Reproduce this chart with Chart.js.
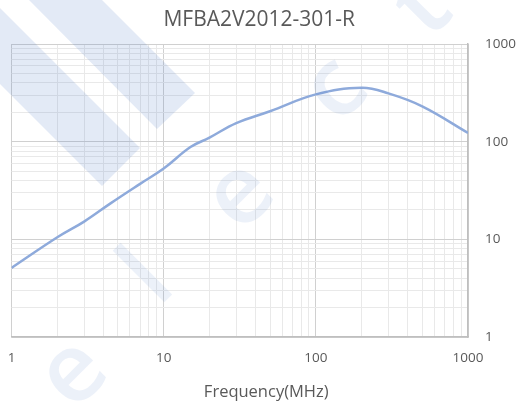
<!DOCTYPE html>
<html>
<head>
<meta charset="utf-8">
<script src="https://cdn.jsdelivr.net/npm/chart.js@4/dist/chart.umd.min.js"></script>
<style>
  html, body { margin: 0; padding: 0; background: #fff; }
  #wrap { width: 521px; height: 408px; }
</style>
</head>
<body>
<div id="wrap"><canvas id="chart" width="521" height="408"></canvas></div>
<script>
// (impedance vs frequency)
const freq = [1, 2, 3, 4.5, 7, 10, 15, 20, 30, 50, 100, 200, 300, 500, 1000];
const impedance = [5.1, 10.5, 15.2, 23.5, 37, 53, 88, 110, 155, 205, 305, 356, 312, 230, 123];

const decadeLabels = [1, 10, 100, 1000];
const gridSteps = [1, 2, 3, 4, 5, 6, 7, 8, 9];
const chartTitle = "MFBA2V2012-301-R";
const xTitle = "Frequency(MHz)";

function buildLogTicks(scale) {
    let ticks = [];
    for (let d = 0; d < decadeLabels.length - 1; d++) {
        gridSteps.forEach(s => ticks.push({ value: decadeLabels[d] * s }));
    }
    ticks.push({ value: decadeLabels[decadeLabels.length - 1] });
    scale.ticks = ticks;
}

function gridColor(ctx) {
    if (!ctx.tick) return '#e8e8e8';
    return decadeLabels.includes(ctx.tick.value) ? '#d0d0d0' : '#e9e9e9';
}

function labelOnlyDecades(value) {
    return decadeLabels.includes(value) ? String(value) : '';
}

// light blue watermark drawn over the chart, title nudged a little left
const watermark = {
    id: 'watermark',
    afterLayout(chart) {
        if (chart.titleBlock) {
            chart.titleBlock.left -= 7;
            chart.titleBlock.right -= 7;
        }
    },
    afterDraw(chart) {
        const c = chart.ctx;
        c.save();
        c.fillStyle = 'rgba(68, 114, 196, 0.15)';
        c.beginPath();
        c.moveTo(0, 8); c.lineTo(140, 148); c.lineTo(102, 186); c.lineTo(0, 84);
        c.closePath();
        c.fill();
        c.beginPath();
        c.moveTo(29, 0); c.lineTo(102, 0); c.lineTo(195, 93); c.lineTo(157, 129);
        c.closePath();
        c.fill();
        c.fillStyle = 'rgba(68, 114, 196, 0.10)';
        c.font = '600 96px "Open Sans"';
        c.textAlign = 'center';
        c.textBaseline = 'middle';
        const letters = [['e', 74, 374], ['l', 149, 279], ['e', 241, 196], ['c', 336, 90], ['t', 423, 8]];
        letters.forEach(l => {
            c.save();
            c.translate(l[1], l[2]);
            c.rotate(-Math.PI / 4);
            c.fillText(l[0], 0, 0);
            c.restore();
        });
        c.restore();
    }
};

const chartData = {
    datasets: [{
        label: chartTitle,
        data: freq.map((f, i) => ({ x: f, y: impedance[i] })),
        borderColor: '#8eaadb',
        backgroundColor: '#8eaadb',
        borderWidth: 2.5,
        pointRadius: 0,
        tension: 0.4,
        fill: false
    }]
};

new Chart(document.getElementById('chart'), {
    type: 'line',
    data: chartData,
    plugins: [watermark],
    options: {
        responsive: false,
        animation: false,
        layout: { padding: { left: 11.5, right: 0, top: 0, bottom: 0 } },
        plugins: {
            legend: { display: false },
            tooltip: { enabled: false },
            title: {
                display: true,
                text: chartTitle,
                color: '#595959',
                font: { family: 'Open Sans', size: 21, weight: 'normal' },
                padding: { top: 7, bottom: 11.8 }
            },
            subtitle: {
                display: true,
                position: 'bottom',
                text: xTitle,
                color: '#595959',
                font: { family: 'Open Sans', size: 16.5, weight: 'normal' },
                padding: { top: 0, bottom: 6 }
            }
        },
        scales: {
            x: {
                type: 'logarithmic',
                min: 1,
                max: 1000,
                afterBuildTicks: buildLogTicks,
                afterFit: s => { s.height = 45.2; s.paddingLeft = 0; s.paddingRight = 0; },
                grid: { color: gridColor, drawTicks: false, lineWidth: 1 },
                border: { color: '#bfbfbf', width: 1.5 },
                ticks: {
                    autoSkip: false,
                    maxRotation: 0,
                    padding: 13,
                    color: '#595959',
                    font: { family: 'Open Sans', size: 13.5 },
                    callback: labelOnlyDecades
                }
            },
            y: {
                type: 'logarithmic',
                position: 'right',
                min: 1,
                max: 1000,
                afterBuildTicks: buildLogTicks,
                afterFit: s => { s.width = 53; },
                grid: { color: gridColor, drawTicks: false, lineWidth: 1 },
                border: { color: '#bfbfbf', width: 1.5 },
                ticks: {
                    autoSkip: false,
                    padding: 17,
                    color: '#595959',
                    font: { family: 'Open Sans', size: 13.5 },
                    callback: labelOnlyDecades
                }
            }
        }
    }
});
</script>
</body>
</html>
